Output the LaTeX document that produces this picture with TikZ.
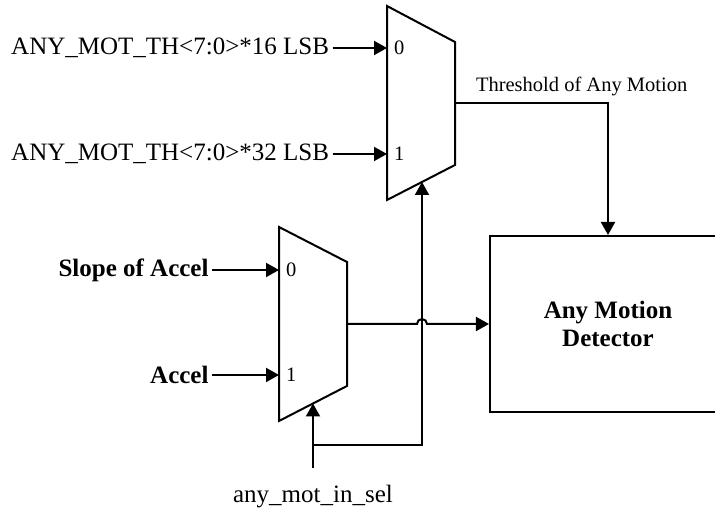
\documentclass[tikz,border=0pt]{standalone}
\usepackage{fontspec}
\setmainfont{Liberation Serif}
\usetikzlibrary{positioning,arrows.meta}

\begin{document}
\begin{tikzpicture}[x=0.4pt,y=-0.4pt,line width=0.8pt,
  sig/.style={-{Triangle[length=5.2pt,width=5.6pt]}},
  lbl/.style={font=\fontsize{10}{11.2}\selectfont,inner sep=1pt},
  small/.style={font=\fontsize{8.2}{10}\selectfont,inner sep=0pt}]
\useasboundingbox (0,0) rectangle (715,510);

% the two muxes
\draw (387,6) -- (455,42) -- (455,165) -- (387,200) -- cycle;
\draw (279,227) -- (347,262) -- (347,386) -- (279,421) -- cycle;
\coordinate (ta) at (387,48); \coordinate (tb) at (387,154); \coordinate (tout) at (455,103); \coordinate (tsel) at (422,182);
\coordinate (ba) at (279,270); \coordinate (bb) at (279,375); \coordinate (bout) at (347,324); \coordinate (bsel) at (313,403.5);
\node[small, right=2.4pt of ta] (ta0) {0}; \node[small, right=2.4pt of tb] (tb1) {1};
\node[small, right=2.4pt of ba] (ba0) {0}; \node[small, right=2.4pt of bb] (bb1) {1};

% inputs
\node[lbl, left=21.8pt of ta] (th16) {ANY\_MOT\_TH<7:0>*16 LSB};
\node[lbl, left=21.8pt of tb] (th32) {ANY\_MOT\_TH<7:0>*32 LSB};
\node[lbl, left=26.8pt of ba, font=\fontsize{10}{11.2}\selectfont\bfseries] (slope) {Slope of Accel};
\node[lbl, left=26.8pt of bb, font=\fontsize{10}{11.2}\selectfont\bfseries] (accel) {Accel};
\draw[sig] (th16) -- (ta); \draw[sig] (th32) -- (tb);
\draw[sig] (slope) -- (ba); \draw[sig] (accel) -- (bb);

% detector
\node[draw, minimum width=94.4pt, minimum height=70.4pt, align=center, font=\fontsize{10}{11.2}\selectfont\bfseries] (amd) at (608,324) {Any Motion\\Detector};
\node[small, anchor=base west] (thr) at (475,92) {Threshold of Any Motion};
\draw[sig] (tout) -| (amd.north);
\draw[sig] (bout) -- (417,324) arc[start angle=180, end angle=360, radius=5] -- (amd.west);

% select
\coordinate (selin) at (313,468); \coordinate (selbr) at (313,445);
\node[lbl, anchor=base] (sel) at (313,503) {any\_mot\_in\_sel};
\draw[sig] (selin) -- (bsel);
\draw[sig] (selbr) -| (tsel);
\end{tikzpicture}
\end{document}
